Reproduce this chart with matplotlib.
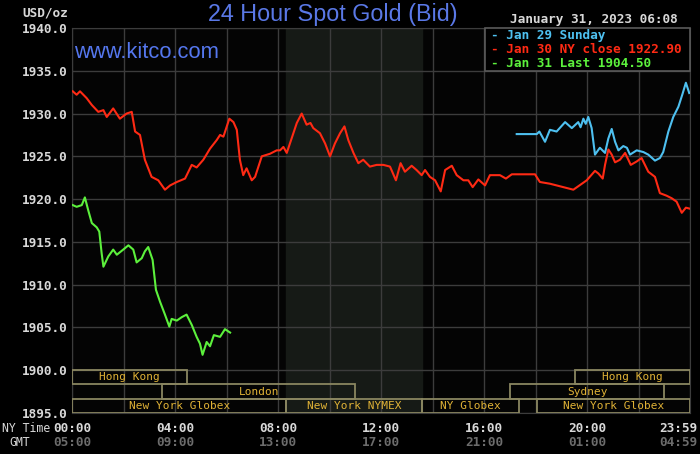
import matplotlib.pyplot as plt
from matplotlib.patches import Rectangle

# Jan 30 NY close (red), hours since 00:00 NY time
red_hours = [0.03, 0.18, 0.31, 0.57, 0.77, 1.02, 1.22, 1.35, 1.60, 1.86, 2.12, 2.32,
             2.45, 2.64, 2.83, 3.09, 3.35, 3.61, 3.81, 4.07, 4.39, 4.65, 4.84, 5.10,
             5.36, 5.62, 5.75, 5.88, 6.11, 6.27, 6.40, 6.52, 6.65, 6.78, 6.98, 7.11,
             7.37, 7.69, 7.95, 8.08, 8.21, 8.34, 8.53, 8.73, 8.92, 9.11, 9.26, 9.37,
             9.63, 9.83, 10.02, 10.21, 10.41, 10.58, 10.73, 10.93, 11.12, 11.31, 11.57,
             11.83, 12.09, 12.35, 12.58, 12.76, 12.93, 13.19, 13.38, 13.58, 13.71, 13.90,
             14.10, 14.32, 14.49, 14.75, 14.94, 15.20, 15.39, 15.56, 15.78, 16.04, 16.23,
             16.62, 16.85, 17.08, 17.40, 17.98, 18.17, 18.56, 18.95, 19.21, 19.47, 19.66,
             19.99, 20.31, 20.44, 20.61, 20.70, 20.83, 20.96, 21.09, 21.28, 21.48, 21.70,
             21.93, 22.12, 22.38, 22.64, 22.83, 23.09, 23.29, 23.48, 23.68, 23.84, 23.97]
red_prices = [1932.6, 1932.2, 1932.6, 1931.8, 1931.0, 1930.2, 1930.4, 1929.6, 1930.6,
              1929.4, 1930.0, 1930.2, 1927.9, 1927.5, 1924.6, 1922.6, 1922.2, 1921.1,
              1921.6, 1922.0, 1922.4, 1924.0, 1923.7, 1924.6, 1925.9, 1926.9, 1927.5,
              1927.3, 1929.4, 1929.0, 1928.1, 1924.6, 1922.8, 1923.6, 1922.2, 1922.6,
              1925.0, 1925.3, 1925.7, 1925.7, 1926.1, 1925.4, 1927.1, 1928.9, 1930.0,
              1928.7, 1928.9, 1928.3, 1927.7, 1926.5, 1925.0, 1926.5, 1927.7, 1928.5,
              1926.9, 1925.4, 1924.2, 1924.6, 1923.8, 1924.0, 1924.0, 1923.8, 1922.2,
              1924.2, 1923.2, 1923.9, 1923.4, 1922.8, 1923.4, 1922.6, 1922.2, 1920.9,
              1923.4, 1923.9, 1922.8, 1922.2, 1922.2, 1921.4, 1922.3, 1921.6, 1922.8,
              1922.8, 1922.4, 1922.9, 1922.9, 1922.9, 1922.0, 1921.8, 1921.5, 1921.3,
              1921.1, 1921.5, 1922.2, 1923.3, 1923.0, 1922.4, 1924.0, 1925.8, 1925.2,
              1924.3, 1924.6, 1925.4, 1924.0, 1924.4, 1924.8, 1923.2, 1922.6, 1920.7,
              1920.4, 1920.1, 1919.7, 1918.4, 1919.0, 1918.9]

# Jan 29 Sunday (blue)
blue_hours = [17.27, 18.05, 18.15, 18.37, 18.56, 18.82, 19.15, 19.41, 19.66, 19.75,
              19.86, 19.95, 20.05, 20.18, 20.31, 20.50, 20.70, 20.83, 20.96, 21.09,
              21.22, 21.41, 21.55, 21.67, 21.93, 22.19, 22.38, 22.64, 22.83, 22.96,
              23.16, 23.35, 23.55, 23.71, 23.84, 23.97]
blue_prices = [1927.6, 1927.6, 1927.9, 1926.7, 1928.1, 1927.9, 1929.0, 1928.3, 1929.0,
               1928.4, 1929.4, 1928.8, 1929.6, 1928.3, 1925.2, 1926.0, 1925.4, 1927.1,
               1928.2, 1926.7, 1925.7, 1926.2, 1926.0, 1925.2, 1925.7, 1925.5, 1925.2,
               1924.5, 1924.8, 1925.5, 1927.9, 1929.6, 1930.8, 1932.3, 1933.6, 1932.4]

# Jan 31 last (green)
green_hours = [0.03, 0.18, 0.38, 0.50, 0.63, 0.77, 0.96, 1.06, 1.15, 1.22, 1.41, 1.60,
               1.74, 1.99, 2.19, 2.38, 2.51, 2.71, 2.83, 2.96, 3.13, 3.26, 3.42, 3.61,
               3.78, 3.87, 4.07, 4.26, 4.45, 4.65, 4.84, 4.97, 5.07, 5.23, 5.36, 5.51,
               5.75, 5.94, 6.14]
green_prices = [1919.3, 1919.1, 1919.3, 1920.2, 1918.7, 1917.2, 1916.7, 1916.2, 1913.7,
                1912.1, 1913.3, 1914.1, 1913.5, 1914.1, 1914.6, 1914.1, 1912.6, 1913.1,
                1913.9, 1914.4, 1912.9, 1909.4, 1908.0, 1906.5, 1905.1, 1906.0, 1905.8,
                1906.2, 1906.5, 1905.3, 1903.9, 1903.1, 1901.8, 1903.3, 1902.8, 1904.1,
                1903.9, 1904.8, 1904.4]

# trading sessions: (row, start hour, end hour, label)
sessions = [
    (0, 0.0, 4.47, "Hong Kong"),
    (0, 19.53, 24.0, "Hong Kong"),
    (1, 3.5, 11.0, "London"),
    (1, 17.0, 23.0, "Sydney"),
    (2, 0.0, 8.33, "New York Globex"),
    (2, 8.33, 13.58, "New York NYMEX"),
    (2, 13.58, 17.36, "NY Globex"),
    (2, 18.05, 24.0, "New York Globex"),
]

ny_ticks = [0, 4, 8, 12, 16, 20, 24]
ny_labels = ["00:00", "04:00", "08:00", "12:00", "16:00", "20:00", "23:59"]
gmt_labels = ["05:00", "09:00", "13:00", "17:00", "21:00", "01:00", "04:59"]

BG = "#000000"
GRID = "#3c3c3c"
TXT = "#d8d8d8"
MONO = "DejaVu Sans Mono"

fig = plt.figure(figsize=(7, 4.54), dpi=100, facecolor=BG)
ax = fig.add_axes([72 / 700, 41 / 454, 618 / 700, 385 / 454])
ax.set_facecolor("#040404")
ax.set_xlim(0, 24)
ax.set_ylim(1895, 1940)

# NYMEX shaded hours
ax.axvspan(8.33, 13.58, color="#161a16", zorder=0)

ax.set_xticks(range(0, 25, 2))
ax.set_yticks(range(1895, 1941, 5))
ax.grid(True, color=GRID, lw=1.0, zorder=1)
ax.tick_params(length=0, labelbottom=False)
ax.set_yticklabels([f"{v:.1f}" for v in range(1895, 1941, 5)],
                   family=MONO, weight="bold", fontsize=9.2, color=TXT)
for s in ax.spines.values():
    s.set_color(GRID)

# session boxes in the bottom band
row_h = 5 / 3
for row, x0, x1, name in sessions:
    y0 = 1900 - (row + 1) * row_h
    ax.add_patch(Rectangle((x0, y0), x1 - x0, row_h, fill=False,
                           ec="#8a8660", lw=1.3, zorder=3))
    ax.text((x0 + x1) / 2, y0 + row_h / 2, name, ha="center", va="center",
            family=MONO, fontsize=8, color="#e0b236", zorder=4)

ax.plot(red_hours, red_prices, color="#ff2a14", lw=1.5, zorder=5)
ax.plot(blue_hours, blue_prices, color="#4ec0f0", lw=1.5, zorder=5)
ax.plot(green_hours, green_prices, color="#5cf03c", lw=1.5, zorder=5)

# x labels (NY time and GMT)
for h, ny, gmt in zip(ny_ticks, ny_labels, gmt_labels):
    xpix = 72 + h * 618 / 24
    ha = "center"
    if h == 24:
        xpix, ha = 697, "right"
    fig.text(xpix / 700, 1 - 428 / 454, ny, ha=ha, va="center",
             family=MONO, weight="bold", fontsize=9.2, color=TXT)
    fig.text(xpix / 700, 1 - 442 / 454, gmt, ha=ha, va="center",
             family=MONO, weight="bold", fontsize=9.2, color="#6c6c6c")
fig.text(2 / 700, 1 - 429 / 454, "NY Time", ha="left", va="center",
         family=MONO, fontsize=8.3, color=TXT)
fig.text(20 / 700, 1 - 442 / 454, "GMT", ha="center", va="center",
         family=MONO, fontsize=8.3, color=TXT)

fig.text(22 / 700, 1 - 13 / 454, "USD/oz", ha="left", va="center",
         family=MONO, weight="bold", fontsize=9.2, color=TXT)
fig.text(333 / 700, 1 - 15 / 454, "24 Hour Spot Gold (Bid)", ha="center",
         va="center", family="Liberation Sans", fontsize=16.8, color="#5a78e6")
fig.text(74 / 700, 1 - 52 / 454, "www.kitco.com", ha="left", va="center",
         family="Liberation Sans", fontsize=15.8, color="#5577ee")
fig.text(678 / 700, 1 - 20 / 454, "January 31, 2023 06:08", ha="right",
         va="center", family=MONO, weight="bold", fontsize=9.2, color=TXT)

# legend box
fig.patches.append(Rectangle((485 / 700, 1 - 71 / 454), 205 / 700, 43 / 454,
                             transform=fig.transFigure, fc=BG, ec="#5a5a5a",
                             lw=1.2, zorder=10))
legend = [("- Jan 29 Sunday", "#4ec0f0"),
          ("- Jan 30 NY close 1922.90", "#ff2a14"),
          ("- Jan 31 Last 1904.50", "#5cf03c")]
for i, (lbl, c) in enumerate(legend):
    fig.text(491 / 700, 1 - (35 + i * 14.3) / 454, lbl, ha="left", va="center",
             family=MONO, weight="bold", fontsize=9.2, color=c, zorder=11)

fig.savefig("out.png", dpi=100, facecolor=BG)
